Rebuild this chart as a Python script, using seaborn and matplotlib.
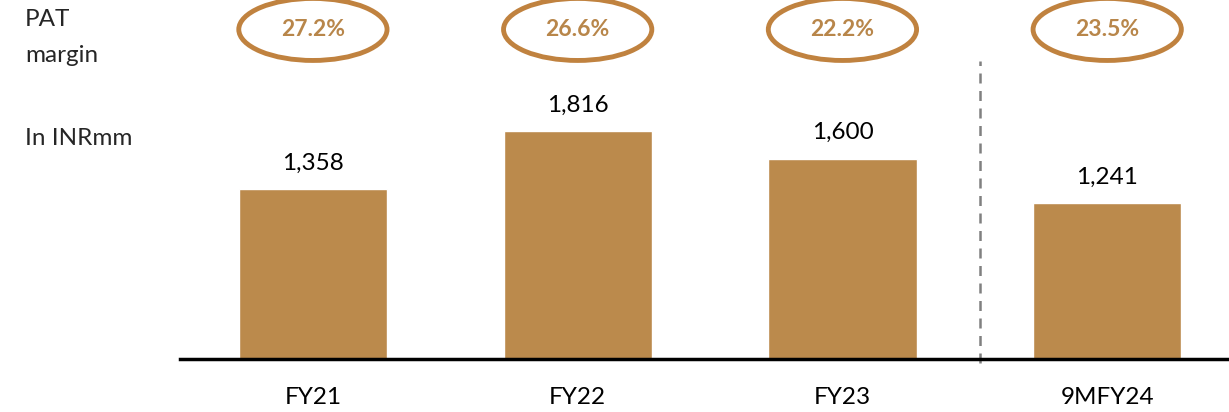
import matplotlib
matplotlib.use('Agg')
import matplotlib.pyplot as plt
import seaborn as sns
import pandas as pd
from matplotlib.patches import Ellipse

# Datos del grafico
periodos = ['FY21', 'FY22', 'FY23', '9MFY24']
pat_inr = [1358, 1816, 1600, 1241]
pat_margen = ['27.2%', '26.6%', '22.2%', '23.5%']

sns.set_theme(style='white')
plt.rcParams['font.family'] = ['Lato', 'DejaVu Sans']

df = pd.DataFrame({'periodo': periodos, 'pat': pat_inr})

fig = plt.figure(figsize=(12.29, 4.12), dpi=100)
ax = fig.add_axes([180 / 1229, (412 - 359) / 412, 1 - 180 / 1229, 359 / 412])

color_barra = '#bb8a4c'
sns.barplot(data=df, x='periodo', y='pat', color=color_barra, width=0.56,
            saturation=1, ax=ax)

ax.set_xlim(-0.502, 3.46)
ax.set_ylim(0, 2865)
ax.set_xlabel('')
ax.set_ylabel('')
ax.set_yticks([])
ax.tick_params(axis='x', length=0, labelsize=17.5, pad=20, colors='black')
for lado in ['top', 'right', 'left']:
    ax.spines[lado].set_visible(False)
ax.spines['bottom'].set_color('black')
ax.spines['bottom'].set_linewidth(2.5)

# Etiquetas de valores
for i, v in enumerate(pat_inr):
    ax.annotate(f'{v:,}', (i, v), xytext=(0, 11), textcoords='offset points',
                ha='center', va='bottom', fontsize=17.5, color='black')

# Elipses con el margen PAT
for i, m in enumerate(pat_margen):
    ax.add_patch(Ellipse((i, 2630), width=0.56, height=495, fill=False,
                         edgecolor='#c0823f', linewidth=3.5, clip_on=False))
    ax.text(i, 2630, m, ha='center', va='center', fontsize=16.5,
            fontweight='bold', color='#b8864a')

# Linea divisoria
ax.axvline(2.52, ymin=-0.01, ymax=0.83, color='#808080', linestyle=(0, (4, 3)),
           linewidth=1.8, clip_on=False)

fig.text(25 / 1229, 1 - 20 / 412, 'PAT', fontsize=17.5, va='center', ha='left')
fig.text(25 / 1229, 1 - 56 / 412, 'margin', fontsize=17.5, va='center', ha='left')
fig.text(25 / 1229, 1 - 138 / 412, 'In INRmm', fontsize=17.5, va='center', ha='left')

fig.savefig('out.png', dpi=100)
